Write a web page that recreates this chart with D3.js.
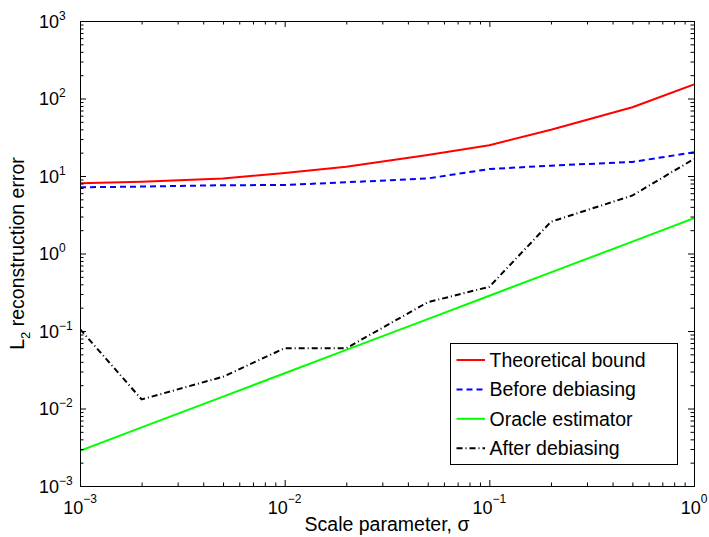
<!DOCTYPE html>
<html>
<head>
<meta charset="utf-8">
<script src="https://cdn.jsdelivr.net/npm/d3@7"></script>
<style>
  html, body { margin: 0; padding: 0; background: #fff; }
  svg { display: block; font-family: "Liberation Sans", Arial, Helvetica, sans-serif; }
</style>
</head>
<body>
<svg id="chart" width="709" height="537"></svg>
<script>
// ---- data ----
const sigma = [0.001, 0.002, 0.005, 0.01, 0.02, 0.05, 0.1, 0.2, 0.5, 1];
const theoreticalBound = [8.05, 8.4, 9.3, 10.9, 13.2, 18.7, 25.0, 39.5, 77, 152];
const beforeDebiasing = [7.15, 7.3, 7.6, 7.65, 8.3, 9.3, 12.3, 13.6, 15.2, 20.2];
const oracleEstimator = [0.00285, 0.0057, 0.01425, 0.0285, 0.057, 0.1425, 0.285, 0.57, 1.425, 2.85];
const afterDebiasing = [0.106, 0.0131, 0.0257, 0.060, 0.060, 0.235, 0.372, 2.57, 5.6, 16.6];
const seriesNames = ["Theoretical bound", "Before debiasing", "Oracle estimator", "After debiasing"];
const xTickValues = [1e-3, 1e-2, 1e-1, 1];
const xTickExponents = ["\u22123", "\u22122", "\u22121", "0"];
const yTickValues = [1e-3, 1e-2, 1e-1, 1, 10, 100, 1000];
const yTickExponents = ["\u22123", "\u22122", "\u22121", "0", "1", "2", "3"];
const xTitle = "Scale parameter, \u03c3";
const yTitleMain = "L";
const yTitleSub = "2";
const yTitleRest = " reconstruction error";

// ---- layout ----
const L = 80, R = 694, T = 21, B = 486;
const svg = d3.select("#chart");
const x = d3.scaleLog().domain([1e-3, 1]).range([L, R]);
const y = d3.scaleLog().domain([1e-3, 1e3]).range([B, T]);

const styles = [
  { color: "#ff0000", dash: null },
  { color: "#0000ff", dash: "6,4" },
  { color: "#00ff00", dash: null },
  { color: "#000000", dash: "6,3,1,3" }
];
const allSeries = [theoreticalBound, beforeDebiasing, oracleEstimator, afterDebiasing];

// clip
svg.append("defs").append("clipPath").attr("id", "clip")
  .append("rect").attr("x", L).attr("y", T).attr("width", R - L).attr("height", B - T);

const line = d3.line().x((d, i) => x(sigma[i])).y(d => y(d));
const lines = svg.append("g").attr("clip-path", "url(#clip)");
allSeries.forEach((s, k) => {
  lines.append("path")
    .attr("d", line(s))
    .attr("fill", "none")
    .attr("stroke", styles[k].color)
    .attr("stroke-width", 2)
    .attr("stroke-dasharray", styles[k].dash)
    .attr("stroke-linejoin", "round");
});

// ---- axes (ticks inside, box) ----
const minorX = x.ticks().filter(v => !xTickValues.some(m => Math.abs(m - v) / m < 1e-9));
const minorY = y.ticks().filter(v => !yTickValues.some(m => Math.abs(m - v) / m < 1e-9));

function styleAxis(g) {
  g.select(".domain").attr("stroke", "#000").attr("stroke-width", 1);
  g.selectAll(".tick line").attr("stroke", "#000").attr("stroke-width", 1);
  g.selectAll(".tick text").remove();
}
const axes = [
  [d3.axisBottom, `translate(0,${B})`, x, -6, -3.5],
  [d3.axisTop, `translate(0,${T})`, x, -6, -3.5],
  [d3.axisLeft, `translate(${L},0)`, y, -6, -3.5],
  [d3.axisRight, `translate(${R},0)`, y, -6, -3.5]
];
axes.forEach(([fn, tr, sc, maj, mn]) => {
  const majors = sc === x ? xTickValues : yTickValues;
  const minors = sc === x ? minorX : minorY;
  svg.append("g").attr("transform", tr)
    .call(fn(sc).tickValues(majors).tickSize(maj).tickFormat(""))
    .call(styleAxis);
  svg.append("g").attr("transform", tr)
    .call(fn(sc).tickValues(minors).tickSize(mn).tickFormat(""))
    .call(styleAxis)
    .call(g => g.select(".domain").remove());
});

// x tick labels
xTickValues.forEach((v, i) => {
  const t = svg.append("text")
    .attr("x", x(v)).attr("y", 514)
    .attr("text-anchor", "middle")
    .attr("font-size", 18).attr("fill", "#000");
  t.append("tspan").text("10");
  t.append("tspan").attr("dy", -11).attr("font-size", 12).text(xTickExponents[i]);
});
// y tick labels
yTickValues.forEach((v, i) => {
  const t = svg.append("text")
    .attr("x", 39).attr("y", y(v) + 6.5)
    .attr("text-anchor", "start")
    .attr("font-size", 18).attr("fill", "#000");
  t.append("tspan").text("10");
  t.append("tspan").attr("dy", -8).attr("font-size", 12).text(yTickExponents[i]);
});

// titles
svg.append("text")
  .attr("x", (L + R) / 2).attr("y", 531)
  .attr("text-anchor", "middle").attr("font-size", 19.5).attr("fill", "#000")
  .text(xTitle);
const yt = svg.append("text")
  .attr("transform", `translate(24,${(T + B) / 2}) rotate(-90)`)
  .attr("text-anchor", "middle").attr("font-size", 19.5).attr("fill", "#000");
yt.append("tspan").text(yTitleMain);
yt.append("tspan").attr("dy", 6).attr("font-size", 13).text(yTitleSub);
yt.append("tspan").attr("dy", -6).text(yTitleRest);

// legend
const lg = svg.append("g");
lg.append("rect").attr("x", 450.5).attr("y", 343.5).attr("width", 227).attr("height", 121)
  .attr("fill", "#fff").attr("stroke", "#000").attr("stroke-width", 1);
seriesNames.forEach((name, k) => {
  const cy = 360 + k * 29.4;
  lg.append("line").attr("x1", 456.5).attr("x2", 485).attr("y1", cy).attr("y2", cy)
    .attr("stroke", styles[k].color).attr("stroke-width", 2)
    .attr("stroke-dasharray", styles[k].dash);
  lg.append("text").attr("x", 489.5).attr("y", cy + 7)
    .attr("font-size", 19.5).attr("fill", "#000").text(name);
});
</script>
</body>
</html>
